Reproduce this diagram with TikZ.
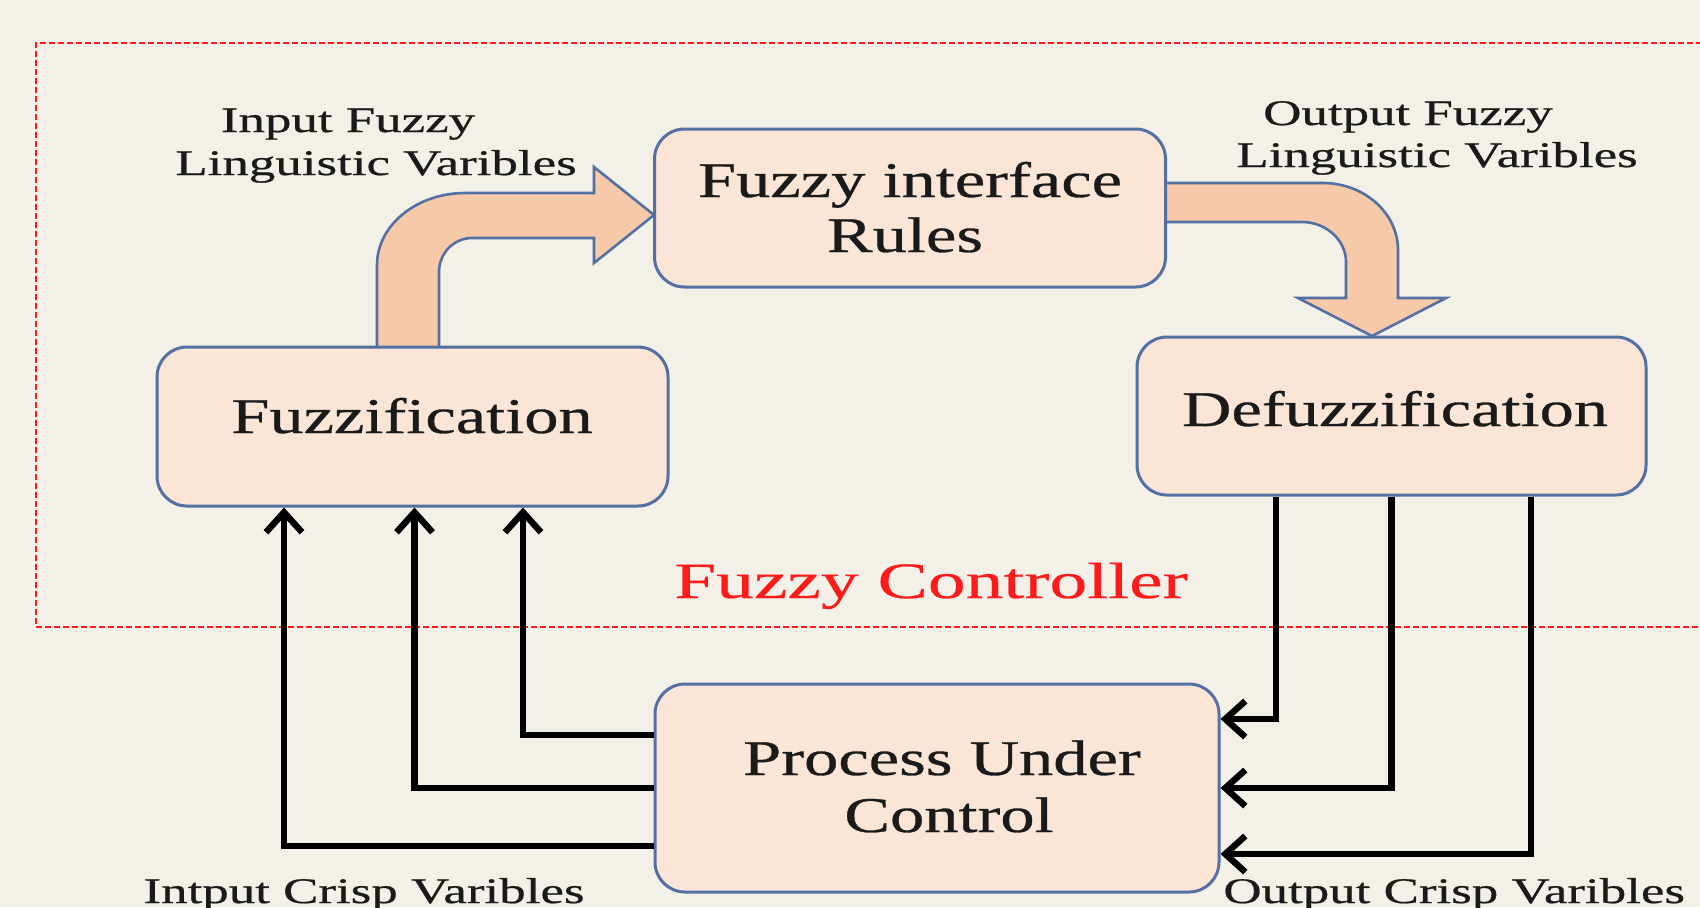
\documentclass[tikz,border=0pt]{standalone}
\usepackage{fontspec}
\setmainfont{Liberation Serif}
\newfontfamily\boxfont[FakeStretch=1.37,FakeBold=0.6]{Liberation Serif}
\newfontfamily\redfont[FakeStretch=1.48,FakeBold=0.4]{Liberation Serif}
\newfontfamily\labelfont[FakeStretch=1.47,FakeBold=0.6]{Liberation Serif}
\usetikzlibrary{arrows.meta}
\definecolor{paper}{HTML}{F3F0E8}
\definecolor{boxfill}{HTML}{FAE5D6}
\definecolor{boxline}{HTML}{5470A3}
\definecolor{bentfill}{HTML}{F6C9A8}
\definecolor{ctrlred}{HTML}{FF1A1A}
\definecolor{ink}{HTML}{1A1A1A}
\tikzset{
  stage/.style={draw=boxline, fill=boxfill, line width=1.5pt, rounded corners=15pt, inner sep=0pt},
  boxtext/.style={anchor=base, inner sep=0pt, text=ink, font=\boxfont\fontsize{25pt}{27pt}\selectfont},
  smalltext/.style={inner sep=0pt, text=ink, font=\labelfont\fontsize{18pt}{20pt}\selectfont},
  bent/.style={fill=bentfill, draw=boxline, line width=1.3pt, line join=miter},
  conn/.style={draw=black, line width=3.2pt, -{Straight Barb[length=10pt,width=18pt]}},
  ctrlzone/.style={draw=ctrlred, line width=0.9pt, dash pattern=on 3pt off 1.5pt}
}
\begin{document}
\begin{tikzpicture}[x=0.5pt,y=-0.5pt]
  % page
  \fill[paper] (0,0) rectangle (1700,907);
  \useasboundingbox (0,0) rectangle (1700,907);
  \clip (0,0) rectangle (1700,907);

  % controller boundary
  \draw[ctrlzone] (1720,43) -- (36,43) -- (36,627) -- (1720,627);
  \node[anchor=base, inner sep=0pt, text=ctrlred, font=\redfont\fontsize{25.5pt}{27pt}\selectfont] (ctrl) at (931,598) {Fuzzy Controller};

  % bent block arrows (drawn first, the stages cover their roots)
  \path[bent] (377,350) -- (377,265) .. controls (377,225) and (417,193) .. (465,193)
    -- (594,193) -- (594,167) -- (654,215) -- (594,263) -- (594,238)
    -- (472,238) .. controls (454,238) and (439,253) .. (439,272) -- (439,350) -- cycle;
  \path[bent] (1160,183) -- (1323,183) .. controls (1364,183) and (1398,213) .. (1398,250)
    -- (1398,298) -- (1446,298) -- (1372,336) -- (1298,298) -- (1346,298)
    -- (1346,262) .. controls (1346,240) and (1326,222) .. (1302,222) -- (1160,222) -- cycle;

  % stages
  \node[stage, minimum width=255.5pt, minimum height=79pt] (rules) at (910,208) {};
  \node[stage, minimum width=255.5pt, minimum height=79.5pt] (fuzz) at (412.5,426.5) {};
  \node[stage, minimum width=254.5pt, minimum height=79pt] (defuzz) at (1391.5,416) {};
  \node[stage, minimum width=282pt, minimum height=104pt] (proc) at (937,788) {};

  \node[boxtext] (rulesA) at (910,197) {Fuzzy interface};
  \node[boxtext] (rulesB) at (905,252) {Rules};
  \node[boxtext] (fuzzT) at (412,433) {Fuzzification};
  \node[boxtext] (defuzzT) at (1395,426) {Defuzzification};
  \node[boxtext] (procA) at (942,775) {Process Under};
  \node[boxtext] (procB) at (949,832) {Control};

  % labels
  \node[smalltext, anchor=base] (inA) at (348,132) {Input Fuzzy};
  \node[smalltext, anchor=base] (inB) at (376,175) {Linguistic Varibles};
  \node[smalltext, anchor=base] (outA) at (1408,125) {Output Fuzzy};
  \node[smalltext, anchor=base] (outB) at (1437,167) {Linguistic Varibles};
  \node[smalltext, anchor=base] (inCrisp) at (364,903) {Intput Crisp Varibles};
  \node[smalltext, anchor=base west] (outCrisp) at (1223,903) {Output Crisp Varibles};

  % crisp inputs: process -> fuzzification
  \draw[conn] ([yshift=-29pt]proc.west) -| ([xshift=-64.25pt]fuzz.south);
  \draw[conn] (proc.west) -| ([xshift=1pt]fuzz.south);
  \draw[conn] ([yshift=26.5pt]proc.west) -| ([xshift=55.25pt]fuzz.south);

  % crisp outputs: defuzzification -> process
  \draw[conn] ([xshift=-57.75pt]defuzz.south) |- ([yshift=34.5pt]proc.east);
  \draw[conn] (defuzz.south) |- (proc.east);
  \draw[conn] ([xshift=69.75pt]defuzz.south) |- ([yshift=-33pt]proc.east);
\end{tikzpicture}
\end{document}
